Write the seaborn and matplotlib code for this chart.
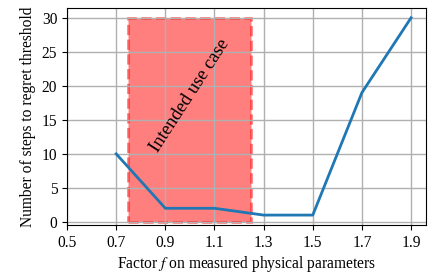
import matplotlib
matplotlib.use("Agg")
import matplotlib.pyplot as plt
import matplotlib.patches as mpatches
import seaborn as sns
import pandas as pd

# Data
factors = [0.7, 0.9, 1.1, 1.3, 1.5, 1.7, 1.9]
steps = [10, 2, 2, 1, 1, 19, 30]
xticks = [0.5, 0.7, 0.9, 1.1, 1.3, 1.5, 1.7, 1.9]
yticks = [0, 5, 10, 15, 20, 25, 30]
use_case_range = (0.75, 1.25)
use_case_height = 30

df = pd.DataFrame({'factor': factors, 'steps': steps})

plt.rcParams['font.family'] = ['Liberation Serif', 'DejaVu Serif']
plt.rcParams['mathtext.fontset'] = 'stix'
plt.rcParams['font.size'] = 11.2

fig, ax = plt.subplots(figsize=(4.44, 2.74), dpi=100)
fig.subplots_adjust(left=0.151, right=0.959, top=0.971, bottom=0.179)

# Intended use case region
rect = mpatches.Rectangle((use_case_range[0], 0), use_case_range[1] - use_case_range[0],
                          use_case_height, facecolor='red', alpha=0.5,
                          edgecolor='red', linestyle='--', linewidth=2, zorder=1)
ax.add_patch(rect)
ax.text(1.0, 18.6, 'Intended use case', rotation=57,
        ha='center', va='center', fontsize=13.4)

sns.lineplot(data=df, x='factor', y='steps', ax=ax, color='tab:blue', linewidth=2, zorder=2)

ax.grid(True, color='#b0b0b0', linewidth=1, zorder=1.5)
ax.set_axisbelow('line')
ax.set_xticks(xticks)
ax.set_yticks(yticks)
ax.set_xlim(0.5, 1.96)
ax.set_ylim(-0.45, 31.45)
ax.set_xlabel('Factor $f$ on measured physical parameters', labelpad=2.5)
ax.set_ylabel('Number of steps to regret threshold')

plt.savefig('out.png', dpi=100)
